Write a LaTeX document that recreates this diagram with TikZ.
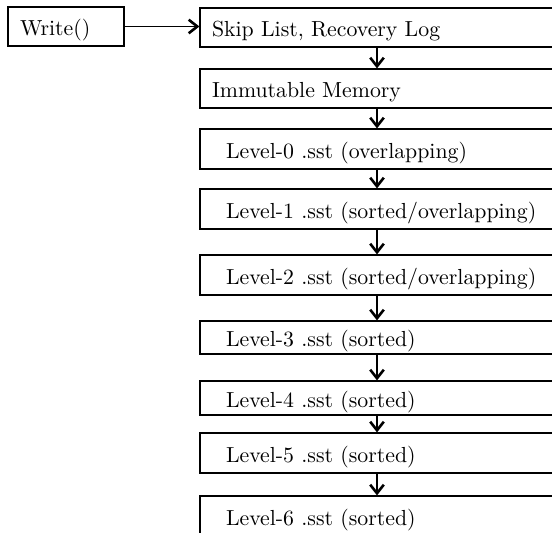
\documentclass[tikz,border=0pt]{standalone}
\usetikzlibrary{arrows.meta}
\begin{document}
\begin{tikzpicture}[x=0.5pt,y=-0.5pt,
  box/.style={draw, line width=0.6pt, rectangle, align=left, inner xsep=6pt, inner ysep=0pt,
    text width=165pt, text height=9.3pt, text depth=0pt, font=\fontsize{10.9}{13}\selectfont},
  wbox/.style={box, text width=46pt},
  conn/.style={line width=0.55pt, -{Straight Barb[length=4.3pt,width=6.8pt,line width=1.3pt]}}]
\useasboundingbox (0,0) rectangle (552,533);
\clip (0,0) rectangle (552,533);
\node[wbox, minimum height=19.5pt] (w) at (66,26.5) {Write()};
\node[box, minimum height=19.5pt] (s0) at (377,27.5) {Skip List, Recovery Log};
\node[box, minimum height=19.5pt] (s1) at (377,88.5) {Immutable Memory};
\node[box, minimum height=20pt] (l0) at (377,149) {\hspace*{7pt}Level-0 .sst (overlapping)};
\node[box, minimum height=20pt] (l1) at (377,209) {\hspace*{7pt}Level-1 .sst (sorted/overlapping)};
\node[box, minimum height=20pt] (l2) at (377,275) {\hspace*{7pt}Level-2 .sst (sorted/overlapping)};
\node[box, minimum height=16.5pt] (l3) at (377,337.5) {\hspace*{7pt}Level-3 .sst (sorted)};
\node[box, minimum height=17pt] (l4) at (377,398) {\hspace*{7pt}Level-4 .sst (sorted)};
\node[box, minimum height=20pt] (l5) at (377,453) {\hspace*{7pt}Level-5 .sst (sorted)};
\node[box, minimum height=20pt] (l6) at (377,516) {\hspace*{7pt}Level-6 .sst (sorted)};
\draw[conn] (w.east) -- (s0.west |- w.east);
\draw[conn] (s0) -- (s1);
\draw[conn] (s1) -- (l0);
\draw[conn] (l0) -- (l1);
\draw[conn] (l1) -- (l2);
\draw[conn] (l2) -- (l3);
\draw[conn] (l3) -- (l4);
\draw[conn] (l4) -- (l5);
\draw[conn] (l5) -- (l6);
\end{tikzpicture}
\end{document}
